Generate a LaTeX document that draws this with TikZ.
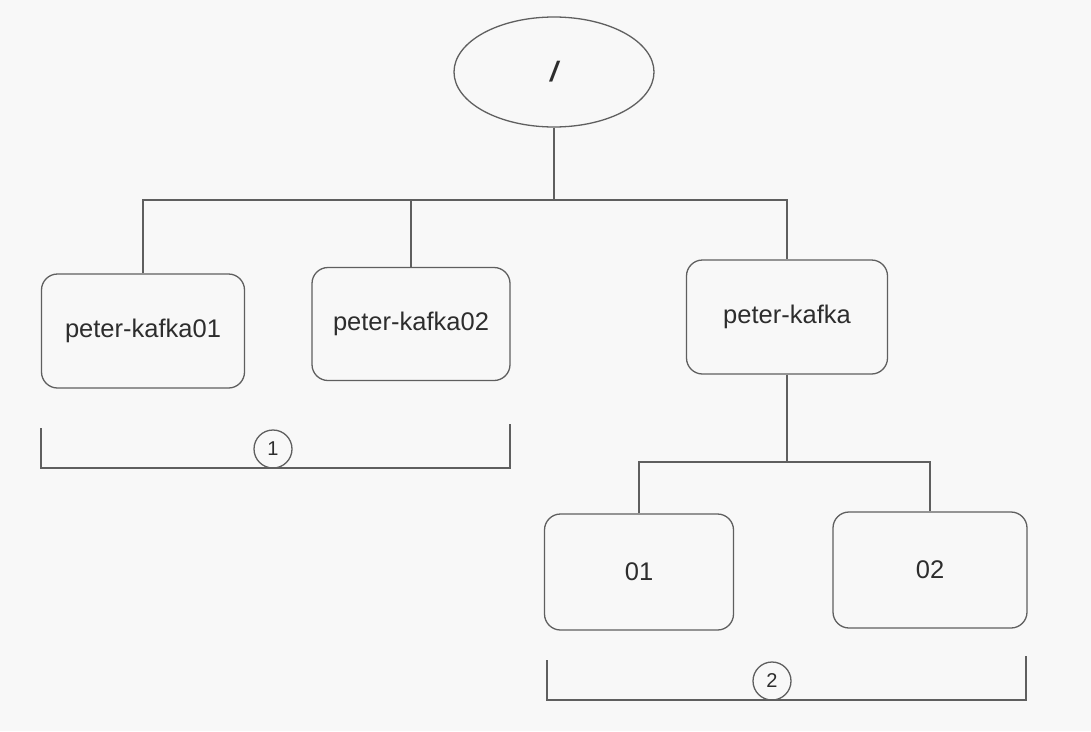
\documentclass[tikz,border=0pt]{standalone}
\usepackage{fontspec}
\setmainfont{Liberation Sans}
\usetikzlibrary{shapes.geometric}
\definecolor{ink}{RGB}{95,95,95}
\definecolor{txt}{RGB}{45,45,45}
\definecolor{paper}{RGB}{248,248,248}
\begin{document}
\begin{tikzpicture}[x=1pt,y=-1pt,
  line width=1.3pt, draw=ink,
  box/.style={draw=ink, rectangle, rounded corners=16pt, minimum width=#1, minimum height=114pt, inner sep=0pt, text=txt, font=\fontsize{25.5}{30}\selectfont},
  box/.default=200pt,
  tag/.style={draw=ink, circle, minimum size=38pt, inner sep=0pt, text=txt, font=\fontsize{20}{24}\selectfont},
  rootnode/.style={draw=ink, ellipse, minimum width=200pt, minimum height=110pt, inner sep=0pt, text=txt, font=\fontsize{28}{30}\selectfont\bfseries\itshape}]
\fill[paper, draw=none] (0,0) rectangle (1091,731);
\useasboundingbox (0,0) rectangle (1091,731);
% nodes
\node[rootnode] (root) at (554,72) {/};
\node[box=203pt] (k01) at (143,331) {peter-kafka01};
\node[box=198pt, minimum height=113pt] (k02) at (411,324) {peter-kafka02};
\node[box=201pt] (pk) at (787,317) {peter-kafka};
\node[box=189pt, minimum height=116pt] (n01) at (639,572) {01};
\node[box=194pt, minimum height=116pt] (n02) at (930,570) {02};
% buses
\coordinate (bus1) at (556,200);
\coordinate (bus2) at (786,462);
\draw (root.south) -- (root.south |- bus1);
\draw (k01.north) -- (k01.north |- bus1) -- (pk.north |- bus1) -- (pk.north);
\draw (k02.north) -- (k02.north |- bus1);
\draw (pk.south) -- (pk.south |- bus2);
\draw (n01.north) -- (n01.north |- bus2) -- (n02.north |- bus2) -- (n02.north);
% bracket 1
\node[tag] (t1) at (273,449) {1};
\coordinate (b1a) at (41,428);
\coordinate (b1b) at (41,468);
\coordinate (b1c) at (510,468);
\coordinate (b1d) at (510,424);
\draw (b1a) -- (b1b) -- (b1c) -- (b1d);
% bracket 2
\node[tag] (t2) at (772,681) {2};
\coordinate (b2a) at (547,660);
\coordinate (b2b) at (547,700);
\coordinate (b2c) at (1026,700);
\coordinate (b2d) at (1026,656);
\draw (b2a) -- (b2b) -- (b2c) -- (b2d);
\end{tikzpicture}
\end{document}
